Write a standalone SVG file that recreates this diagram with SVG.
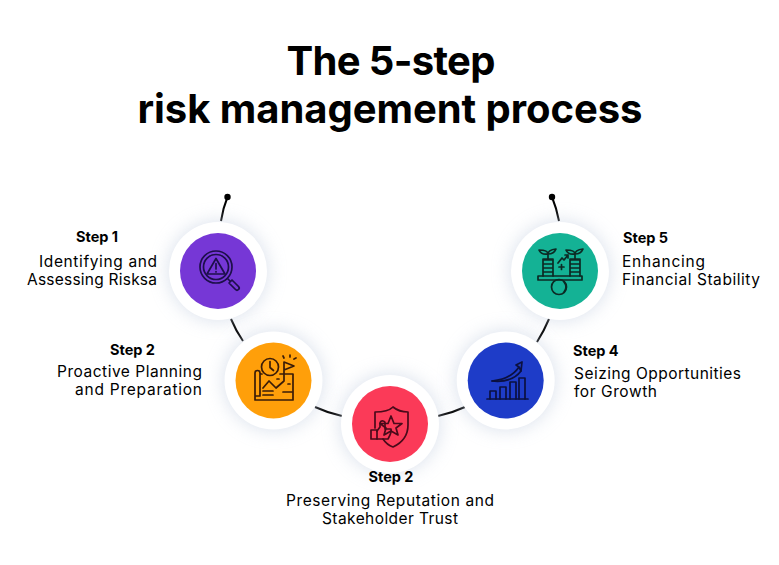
<svg xmlns="http://www.w3.org/2000/svg" width="779" height="565" viewBox="0 0 779 565">
<defs>
<filter id="glow" x="-40%" y="-40%" width="180%" height="180%"><feGaussianBlur stdDeviation="9"/></filter>
<circle id="halo" r="50" fill="#c4cfe0" opacity="0.6" filter="url(#glow)"/>
</defs>
<style>
text{font-family:"Inter","Liberation Sans",sans-serif;fill:#000}
.title{font-size:40px;font-weight:700;text-anchor:middle}
.step{font-size:14.500px;font-weight:700}
.body{font-size:15.500px;font-weight:400}
.mid{text-anchor:middle}.end{text-anchor:end}
.wire{fill:none;stroke:#000;stroke-width:2}
.plate{fill:#fff}
.ic{fill:none;stroke-width:1.700;stroke-linecap:round;stroke-linejoin:round}
</style>
<rect width="779" height="565" fill="#fff"/>
<g id="title">
<text class="title" x="391" y="75" textLength="209" lengthAdjust="spacing">The 5-step</text>
<text class="title" x="390" y="123" textLength="505" lengthAdjust="spacing">risk management process</text>
</g>
<g id="connectors">
<path class="wire" d="M227.500 197Q223 208 221 221"/>
<circle cx="227.500" cy="197" r="3.200" fill="#000"/>
<path class="wire" d="M552 197Q556.500 208 559 221"/>
<circle cx="552" cy="197" r="3.200" fill="#000"/>
<path class="wire" d="M231 319Q236 331 243 341"/>
<path class="wire" d="M315 407Q328 413 342 416"/>
<path class="wire" d="M438 416Q452 413 465 407"/>
<path class="wire" d="M537 342Q544 331 549 319"/>
</g>
<g id="node-1">
<use href="#halo" x="218" y="271"/>
<circle class="plate" cx="218" cy="271" r="49"/>
<circle cx="218" cy="271" r="38" fill="#7637d6"/>
<g class="ic" stroke="#1d0f4a">
<circle cx="216" cy="267" r="16"/><circle cx="216" cy="267" r="12.500"/>
<path d="M216 258.500L225 274H207Z"/><path d="M216 263.500V269M216 271.500V272"/>
<path d="M227.500 278.500L230 281M229 283L232 280L238.500 286.500A2 2 0 0 1 235.500 289.500Z"/>
</g>
<text class="step" x="76" y="242">Step 1</text>
<text class="body end" x="157" y="266.500" textLength="118" lengthAdjust="spacing">Identifying and</text>
<text class="body end" x="157" y="284.500" textLength="130" lengthAdjust="spacing">Assessing Risksa</text>
</g>
<g id="node-2">
<use href="#halo" x="273.500" y="380.500"/>
<circle class="plate" cx="273.500" cy="380.500" r="49"/>
<circle cx="273.500" cy="380.500" r="38" fill="#ff9f0a"/>
<g class="ic" stroke="#3a1c08">
<circle cx="270" cy="367" r="8.500"/><path d="M270 361.500V367.500L273.500 370.500"/>
<path d="M255 398V373A2.500 2.500 0 0 1 260 373V396H255V400H293V374H280M261 374H262"/>
<path d="M263 388L269 381L276 388L284 381V362L294 366L284 370"/>
<path d="M263 391H273M263 395H273M283 392H292M277 379H279M288 384H290"/>
<path d="M283 356L284 358M290 355V357M296 358L294 359"/>
</g>
<text class="step" x="110" y="355">Step 2</text>
<text class="body end" x="202" y="376.500" textLength="145" lengthAdjust="spacing">Proactive Planning</text>
<text class="body end" x="202" y="394.500" textLength="127" lengthAdjust="spacing">and Preparation</text>
</g>
<g id="node-3">
<use href="#halo" x="390" y="424"/>
<circle class="plate" cx="390" cy="424" r="49"/>
<circle cx="390" cy="424" r="38" fill="#fb3a58"/>
<g class="ic" stroke="#4a0a1a" stroke-width="1.400">
<path d="M375 428V412Q388 412 393 407Q399 412 408 412V425Q408 440 393 447Q387 445 383 439"/>
<path d="M391 416L394 423.500H402L396 428L398 435L391 431L384 435L386 428L380 423.500H388Z"/>
<rect x="371" y="430" width="6" height="9"/>
<path d="M377 431L380 427V423A2.500 2.500 0 0 1 385 424V429H391Q392 432 388 439H377"/>
</g>
<text class="step mid" x="391" y="482">Step 2</text>
<text class="body mid" x="390" y="505.500" textLength="208" lengthAdjust="spacing">Preserving Reputation and</text>
<text class="body mid" x="390" y="523.500" textLength="136" lengthAdjust="spacing">Stakeholder Trust</text>
</g>
<g id="node-4">
<use href="#halo" x="505.700" y="380.500"/>
<circle class="plate" cx="505.700" cy="380.500" r="49"/>
<circle cx="505.700" cy="380.500" r="38" fill="#1e3cc8"/>
<g class="ic" stroke="#0b1040">
<path d="M487 399H528"/>
<path d="M490 399V391H496V399M500 399V387H506V399M510 399V382H516V399M519 399V378H525V399"/>
<path d="M492 381Q511 379 519 367L516 365L522 362L521 371L519 367"/>
<path d="M492 381Q512 383 521 371"/>
</g>
<text class="step" x="573" y="356">Step 4</text>
<text class="body" x="574" y="378.500" textLength="167" lengthAdjust="spacing">Seizing Opportunities</text>
<text class="body" x="574" y="396.500" textLength="83" lengthAdjust="spacing">for Growth</text>
</g>
<g id="node-5">
<use href="#halo" x="560" y="271"/>
<circle class="plate" cx="560" cy="271" r="49"/>
<circle cx="560" cy="271" r="38" fill="#14b295"/>
<g class="ic" stroke="#0c2a24">
<path d="M538 276H582V280H538Z"/>
<path d="M543 276V259H553V276M543 260H553M543 264H553M543 268H553M543 272H553"/>
<path d="M570 276V259H580V276M570 260H580M570 264H580M570 268H580M570 272H580"/>
<path d="M548 259V254Q548 250 539 250Q541 255 548 254Q548 250 556 249Q554 254 548 254"/>
<path d="M575 259V254Q575 250 566 250Q568 255 575 254Q575 250 583 249Q581 254 575 254"/>
<path d="M558 263L562 258L564 260L568 255M565 255H568V258M559 267H564M561.500 264.500V269.500"/>
<circle cx="559" cy="287" r="7.500"/><path d="M564 282Q568 287 564 292"/>
</g>
<text class="step" x="623" y="243">Step 5</text>
<text class="body" x="622" y="266.500" textLength="83" lengthAdjust="spacing">Enhancing</text>
<text class="body" x="622" y="284.500" textLength="138" lengthAdjust="spacing">Financial Stability</text>
</g>
</svg>
